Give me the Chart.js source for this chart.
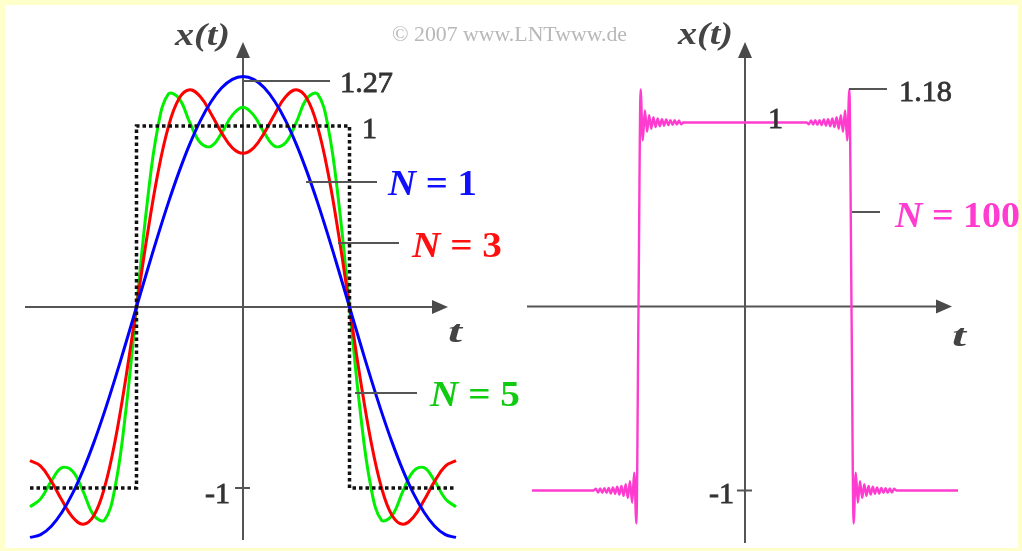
<!DOCTYPE html>
<html>
<head>
<meta charset="utf-8">
<script src="https://cdn.jsdelivr.net/npm/chart.js@4/dist/chart.umd.min.js"></script>
<style>
html, body { margin: 0; padding: 0; background: #ffffcc; }
canvas { display: block; }
</style>
</head>
<body>
<canvas id="myChart" width="1022" height="551"></canvas>
<script>
// Zeit in Einheiten von T/4 (Sprungstellen bei t = ±1)
const tGrid = [-2.0, -1.9, -1.8, -1.7, -1.6, -1.5, -1.4, -1.3, -1.2, -1.1,
    -1.0, -0.9, -0.8, -0.7, -0.6, -0.5, -0.4, -0.3, -0.2, -0.1,
    0.0, 0.1, 0.2, 0.3, 0.4, 0.5, 0.6, 0.7, 0.8, 0.9,
    1.0, 1.1, 1.2, 1.3, 1.4, 1.5, 1.6, 1.7, 1.8, 1.9, 2.0];

// N = 1
const xN1 = [-1.273, -1.258, -1.211, -1.134, -1.030, -0.900, -0.748, -0.578, -0.393, -0.199,
    0, 0.199, 0.393, 0.578, 0.748, 0.900, 1.030, 1.134, 1.211, 1.258,
    1.273, 1.258, 1.211, 1.134, 1.030, 0.900, 0.748, 0.578, 0.393, 0.199,
    0, -0.199, -0.393, -0.578, -0.748, -0.900, -1.030, -1.134, -1.211, -1.258, -1.273];

// N = 3
const xN3 = [-0.849, -0.879, -0.962, -1.068, -1.161, -1.200, -1.152, -0.997, -0.737, -0.392,
    0, 0.392, 0.737, 0.997, 1.152, 1.200, 1.161, 1.068, 0.962, 0.879,
    0.849, 0.879, 0.962, 1.068, 1.161, 1.200, 1.152, 0.997, 0.737, 0.392,
    0, -0.392, -0.737, -0.997, -1.152, -1.200, -1.161, -1.068, -0.962, -0.879, -0.849];

// N = 5
const xN5 = [-1.104, -1.060, -0.962, -0.888, -0.907, -1.020, -1.152, -1.177, -0.992, -0.572,
    0, 0.572, 0.992, 1.177, 1.152, 1.020, 0.907, 0.888, 0.962, 1.060,
    1.104, 1.060, 0.962, 0.888, 0.907, 1.020, 1.152, 1.177, 0.992, 0.572,
    0, -0.572, -0.992, -1.177, -1.152, -1.020, -0.907, -0.888, -0.962, -1.060, -1.104];

// Rechteck (gepunktet)
const tSquare = [-2, -1, -1, 1, 1, 2];
const xSquare = [-1, -1, 1, 1, -1, -1];

// N = 100 (Gibbsches Phänomen)
const tN100 = [-2.0, -1.42,
    -1.40, -1.38, -1.36, -1.34, -1.32, -1.30, -1.28, -1.26, -1.24, -1.22,
    -1.20, -1.18, -1.16, -1.14, -1.12, -1.10, -1.08, -1.06, -1.04, -1.02,
    -1.00,
    -0.98, -0.96, -0.94, -0.92, -0.90, -0.88, -0.86, -0.84, -0.82, -0.80,
    -0.78, -0.76, -0.74, -0.72, -0.70, -0.68, -0.66, -0.64, -0.62, -0.60,
    -0.58, 0.58,
    0.60, 0.62, 0.64, 0.66, 0.68, 0.70, 0.72, 0.74, 0.76, 0.78,
    0.80, 0.82, 0.84, 0.86, 0.88, 0.90, 0.92, 0.94, 0.96, 0.98,
    1.00,
    1.02, 1.04, 1.06, 1.08, 1.10, 1.12, 1.14, 1.16, 1.18, 1.20,
    1.22, 1.24, 1.26, 1.28, 1.30, 1.32, 1.34, 1.36, 1.38, 1.40,
    1.42, 2.0];
const xN100 = [-1.0, -1.0,
    -0.990, -1.011, -0.989, -1.012, -0.987, -1.013, -0.986, -1.016, -0.983, -1.018,
    -0.980, -1.022, -0.975, -1.029, -0.966, -1.040, -0.950, -1.066, -0.903, -1.179,
    0,
    1.179, 0.903, 1.066, 0.950, 1.040, 0.966, 1.029, 0.975, 1.022, 0.980,
    1.018, 0.983, 1.016, 0.986, 1.013, 0.987, 1.012, 0.989, 1.011, 0.990,
    1.0, 1.0,
    0.990, 1.011, 0.989, 1.012, 0.987, 1.013, 0.986, 1.016, 0.983, 1.018,
    0.980, 1.022, 0.975, 1.029, 0.966, 1.040, 0.950, 1.066, 0.903, 1.179,
    0,
    -1.179, -0.903, -1.066, -0.950, -1.040, -0.966, -1.029, -0.975, -1.022, -0.980,
    -1.018, -0.983, -1.016, -0.986, -1.013, -0.987, -1.012, -0.989, -1.011, -0.990,
    -1.0, -1.0];

// Beschriftungen
const seriesLabels = ['N = 1', 'N = 3', 'N = 5', 'N = 100'];
const leftTicks = ['1.27', '1', '-1'];
const rightTicks = ['1.18', '1', '-1'];

// Layout (Pixel)
const W = 1022, H = 551;
const lx0 = 243, rx0 = 745, ux = 106.5;
const ly0 = 307, uyL = 181, ry0 = 306.5, uyR = 184;
const FONT = '"Liberation Serif", "Times New Roman", serif';
const GRAY = '#555555';
const TXT = '#333333';

function pts(ts, vs) {
    return ts.map((t, i) => ({ x: t, y: vs[i] }));
}

function drawText(ctx, parts, x, base, width, heavy) {
    ctx.save();
    let total = 0;
    parts.forEach(p => { ctx.font = p[1]; total += ctx.measureText(p[0]).width; });
    const sx = width ? width / total : 1;
    ctx.translate(x, base);
    ctx.scale(sx, 1);
    ctx.textBaseline = 'alphabetic';
    ctx.textAlign = 'left';
    let cx = 0;
    parts.forEach(p => {
        ctx.font = p[1];
        ctx.fillStyle = p[2];
        ctx.fillText(p[0], cx, 0);
        if (heavy) {
            ctx.strokeStyle = p[2];
            ctx.lineWidth = heavy;
            ctx.strokeText(p[0], cx, 0);
        }
        cx += ctx.measureText(p[0]).width;
    });
    ctx.restore();
}

function line(ctx, x1, y1, x2, y2, w, c) {
    ctx.beginPath();
    ctx.moveTo(x1, y1);
    ctx.lineTo(x2, y2);
    ctx.lineWidth = w;
    ctx.strokeStyle = c;
    ctx.stroke();
}

function axes(ctx, ox, oy, xa, xb, ya, yb, tickY) {
    line(ctx, xa, oy, xb - 12, oy, 2, GRAY);
    line(ctx, ox, yb, ox, ya + 12, 2, GRAY);
    ctx.fillStyle = '#4a4a4a';
    ctx.beginPath();
    ctx.moveTo(xb, oy); ctx.lineTo(xb - 16, oy - 7); ctx.lineTo(xb - 16, oy + 7);
    ctx.closePath(); ctx.fill();
    ctx.beginPath();
    ctx.moveTo(ox, ya); ctx.lineTo(ox - 7, ya + 16); ctx.lineTo(ox + 7, ya + 16);
    ctx.closePath(); ctx.fill();
    line(ctx, ox - 8, tickY, ox + 7, tickY, 2, GRAY);
}

const decor = {
    id: 'decor',
    beforeDraw(chart) {
        const ctx = chart.ctx;
        ctx.save();
        ctx.fillStyle = '#ffffcc';
        ctx.fillRect(0, 0, W, H);
        ctx.fillStyle = '#ffffff';
        ctx.fillRect(5, 5, 1013, 543);
        ctx.restore();
    },
    beforeDatasetsDraw(chart) {
        const ctx = chart.ctx, s = chart.scales;
        ctx.save();
        axes(ctx, s.xL.getPixelForValue(0), s.yL.getPixelForValue(0), 25, 448, 42, 540, s.yL.getPixelForValue(-1));
        axes(ctx, s.xR.getPixelForValue(0), s.yR.getPixelForValue(0), 527, 952, 42, 543, s.yR.getPixelForValue(-1));
        ctx.restore();
    },
    afterDatasetsDraw(chart) {
        const ctx = chart.ctx, s = chart.scales;
        ctx.save();
        const big = 'bold 36px ' + FONT, bigI = 'italic bold 36px ' + FONT;
        const num = '29px ' + FONT;
        const ax = 'italic bold 32px ' + FONT;
        // Hinweislinien
        line(ctx, s.xL.getPixelForValue(0), 81, 330, 81, 2, GRAY);
        line(ctx, 306, 182, 377, 182, 2, GRAY);
        line(ctx, 338, 243, 399, 243, 2, GRAY);
        line(ctx, 355, 393, 417, 393, 2, GRAY);
        line(ctx, 849, 89, 887, 89, 2, GRAY);
        line(ctx, 852, 212, 880, 212, 2, GRAY);
        // Achsenbeschriftung
        drawText(ctx, [['x(t)', ax, '#444']], 175, 45, 55);
        drawText(ctx, [['x(t)', ax, '#444']], 678, 44, 55);
        drawText(ctx, [['t', ax, '#444']], 448, 342, 14);
        drawText(ctx, [['t', ax, '#444']], 952, 346, 14);
        // Zahlen
        drawText(ctx, [[leftTicks[0], num, TXT]], 340, 92, 53, 0.8);
        drawText(ctx, [[leftTicks[1], num, TXT]], 362, 138, 15, 0.8);
        drawText(ctx, [[leftTicks[2], num, TXT]], 205, 503, 25, 0.8);
        drawText(ctx, [[rightTicks[0], num, TXT]], 899, 101, 53, 0.8);
        drawText(ctx, [[rightTicks[1], num, TXT]], 768, 128, 15, 0.8);
        drawText(ctx, [[rightTicks[2], num, TXT]], 709, 503, 25, 0.8);
        // Reihen
        const lab = (txt, col, x, b, w) => drawText(ctx, [[txt[0], bigI, col], [txt.slice(1), big, col]], x, b, w);
        lab(seriesLabels[0], '#1010ff', 388, 195, 89);
        lab(seriesLabels[1], '#ff1010', 412, 257, 90);
        lab(seriesLabels[2], '#10cc10', 430, 406, 90);
        lab(seriesLabels[3], '#ff3ccf', 895, 227, 125);
        // Copyright
        drawText(ctx, [['\u00a9 2007 www.LNTwww.de', '22px ' + FONT, '#b8b8b8']], 392, 41, 235);
        ctx.restore();
    }
};

const curve = (color, width) => ({
    borderColor: color,
    borderWidth: width,
    pointRadius: 0,
    fill: false,
    tension: 0.4,
    borderJoinStyle: 'round',
    clip: false
});

const data = {
    datasets: [
        Object.assign(curve('#111111', 3.5), {
            label: 'Rechteck', data: pts(tSquare, xSquare), xAxisID: 'xL', yAxisID: 'yL',
            tension: 0, borderDash: [3.5, 3], borderJoinStyle: 'miter'
        }),
        Object.assign(curve('#0000ff', 3), { label: seriesLabels[0], data: pts(tGrid, xN1), xAxisID: 'xL', yAxisID: 'yL' }),
        Object.assign(curve('#ff0000', 3), { label: seriesLabels[1], data: pts(tGrid, xN3), xAxisID: 'xL', yAxisID: 'yL' }),
        Object.assign(curve('#00f000', 3), { label: seriesLabels[2], data: pts(tGrid, xN5), xAxisID: 'xL', yAxisID: 'yL' }),
        Object.assign(curve('#ff3ccf', 2.4), {
            label: seriesLabels[3], data: pts(tN100, xN100), xAxisID: 'xR', yAxisID: 'yR',
            cubicInterpolationMode: 'monotone'
        })
    ]
};

const options = {
    responsive: false,
    animation: false,
    events: [],
    layout: { padding: 0 },
    plugins: { legend: { display: false }, tooltip: { enabled: false } },
    scales: {
        xL: { type: 'linear', display: false, bounds: 'data', min: -lx0 / ux, max: (W - lx0) / ux },
        xR: { type: 'linear', display: false, bounds: 'data', min: -rx0 / ux, max: (W - rx0) / ux },
        yL: { type: 'linear', display: false, bounds: 'data', min: -(H - ly0) / uyL, max: ly0 / uyL },
        yR: { type: 'linear', display: false, bounds: 'data', min: -(H - ry0) / uyR, max: ry0 / uyR }
    }
};

const ctx = document.getElementById('myChart').getContext('2d');
const myChart = new Chart(ctx, {
    type: 'line',
    data: data,
    options: options,
    plugins: [decor]
});
</script>
</body>
</html>
